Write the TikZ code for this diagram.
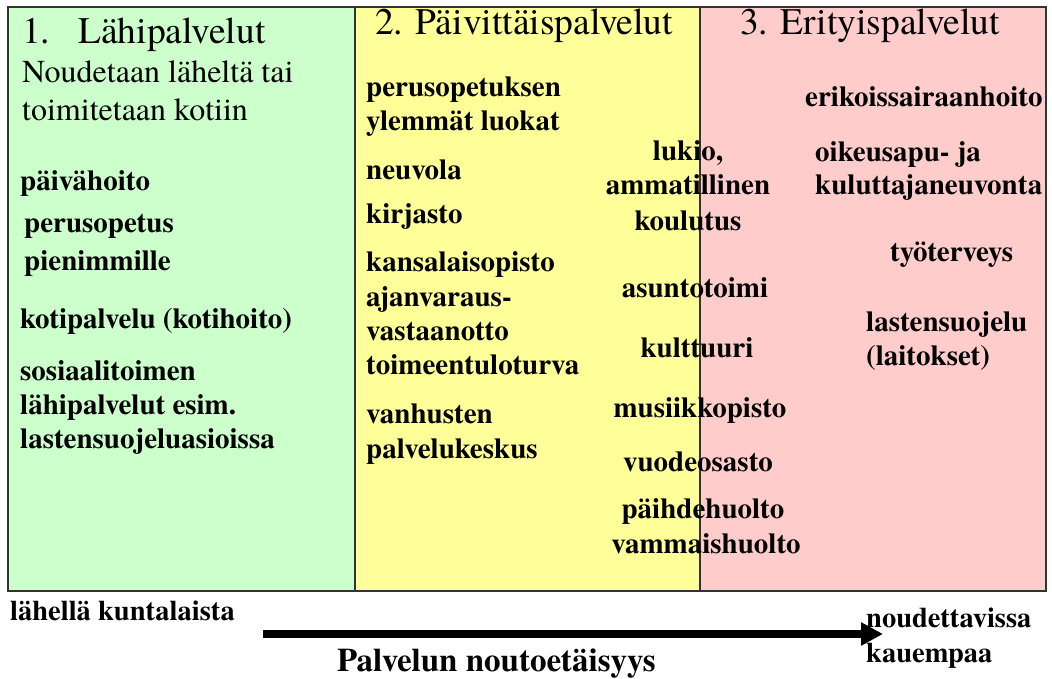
\documentclass[tikz,border=0pt]{standalone}
\usepackage{fontspec}
\setmainfont{texgyretermes}[Extension=.otf, UprightFont=*-regular, BoldFont=*-bold, ItalicFont=*-italic, BoldItalicFont=*-bolditalic]
\usetikzlibrary{arrows.meta}
\definecolor{cgreen}{HTML}{CCFFCC}
\definecolor{cyellow}{HTML}{FFFF99}
\definecolor{cpink}{HTML}{FFCCCC}
\definecolor{cframe}{HTML}{333333}
\tikzset{
  head/.style={anchor=base west, inner sep=0pt, font=\fontsize{37.5}{40}\selectfont},
  sub/.style={anchor=base west, inner sep=0pt, font=\fontsize{32}{38}\selectfont},
  item/.style={anchor=base west, inner sep=0pt, font=\fontsize{29}{34}\selectfont\bfseries},
  citem/.style={anchor=base, inner sep=0pt, font=\fontsize{29}{34}\selectfont\bfseries},
  foot/.style={anchor=base west, inner sep=0pt, font=\fontsize{28.5}{34}\selectfont\bfseries},
  panel/.style={draw=cframe, line width=1.5pt},
}
\begin{document}
\begin{tikzpicture}[x=1pt,y=-1pt]
\useasboundingbox (0,0) rectangle (1052,679);
% panels
\fill[cgreen] (8,7) rectangle (355,591);
\fill[cyellow] (355,7) rectangle (700,591);
\fill[cpink] (700,7) rectangle (1046,591);
\draw[panel] (355,7) -- (355,591);
\draw[panel] (700,7) -- (700,591);
\draw[panel] (8,7) rectangle (1046,591);

% headings
\node[head] (h1) at (22,44) {1.\hspace{28pt}Lähipalvelut};
\node[head] (h2) at (375,35) {2. Päivittäispalvelut};
\node[head] (h3) at (740,35) {3. Erityispalvelut};

% column 1
\node[sub] (s1) at (22,83) {Noudetaan läheltä tai};
\node[sub] (s2) at (22,121) {toimitetaan kotiin};
\node[item] (a1) at (20,191) {päivähoito};
\node[item] (a2) at (24,233) {perusopetus};
\node[item] (a3) at (24,270) {pienimmille};
\node[item] (a4) at (20,328) {kotipalvelu (kotihoito)};
\node[item] (a5) at (20,380) {sosiaalitoimen};
\node[item] (a6) at (20,414) {lähipalvelut esim.};
\node[item] (a7) at (20,448) {lastensuojeluasioissa};

% column 2
\node[item] (b1) at (366,97) {perusopetuksen};
\node[item] (b2) at (366,131) {ylemmät luokat};
\node[item] (b3) at (366,180) {neuvola};
\node[item] (b4) at (366,224) {kirjasto};
\node[item] (b5) at (366,271) {kansalaisopisto};
\node[item] (b6) at (366,306) {ajanvaraus-};
\node[item] (b7) at (366,340) {vastaanotto};
\node[item] (b8) at (366,374) {toimeentuloturva};
\node[item] (b9) at (366,423) {vanhusten};
\node[item] (b10) at (366,458) {palvelukeskus};

% middle (straddling)
\node[citem] (m1) at (688,161) {lukio,};
\node[citem] (m2) at (688,195) {ammatillinen};
\node[citem] (m3) at (688,230) {koulutus};
\node[citem] (m4) at (695,297) {asuntotoimi};
\node[citem] (m5) at (697,357) {kulttuuri};
\node[citem] (m6) at (700,417) {musiikkopisto};
\node[citem] (m7) at (698,471) {vuodeosasto};
\node[citem] (m8) at (703,518) {päihdehuolto};
\node[citem] (m9) at (706,553) {vammaishuolto};

% column 3
\node[item] (c1) at (805,107) {erikoissairaanhoito};
\node[item] (c2) at (815,162) {oikeusapu- ja};
\node[item] (c3) at (815,195) {kuluttajaneuvonta};
\node[item] (c4) at (890,261) {työterveys};
\node[item] (c5) at (866,331) {lastensuojelu};
\node[item] (c6) at (866,365) {(laitokset)};

% bottom
\node[foot] (f1) at (10,620) {lähellä kuntalaista};
\coordinate (arrS) at (263,634);
\coordinate (arrE) at (883,634);
\draw[line width=8pt, -{Triangle[length=22pt,width=22pt]}] (arrS) -- (arrE);
\node[foot] (f2) at (866,627) {noudettavissa};
\node[foot] (f3) at (866,662) {kauempaa};
\node[anchor=base west, inner sep=0pt, font=\fontsize{33}{38}\selectfont\bfseries] (f4) at (337,671) {Palvelun noutoetäisyys};
\end{tikzpicture}
\end{document}
